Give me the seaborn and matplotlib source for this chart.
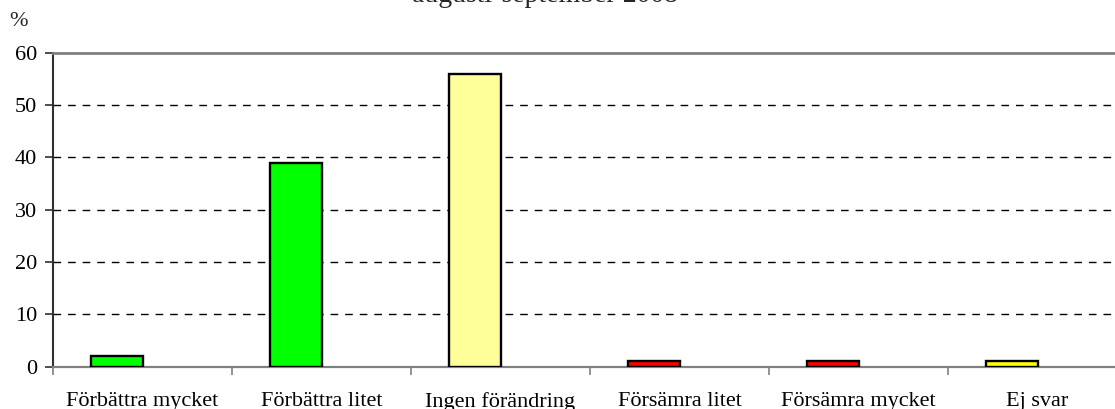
import matplotlib
matplotlib.use("Agg")
import matplotlib.pyplot as plt
import seaborn as sns
import pandas as pd
import numpy as np

categories = ["Förbättra mycket", "Förbättra litet", "Ingen förändring",
              "Försämra litet", "Försämra mycket", "Ej svar"]
values = [2, 39, 56, 1, 1, 1]
bar_colors = ["#00FF00", "#00FF00", "#FFFF99", "#FF0000", "#FF0000", "#FFFF00"]
y_ticks = [0, 10, 20, 30, 40, 50, 60]
title_text = "augusti-september 2008"
unit_label = "%"

sns.set_theme(style="white")
plt.rcParams["font.family"] = ["Liberation Serif", "DejaVu Serif"]
plt.rcParams["lines.scale_dashes"] = False

W, H = 1115, 409
fig = plt.figure(figsize=(W / 100, H / 100), dpi=100)
ax = fig.add_axes([53 / W, 42.5 / H, 1074 / W, 313.8 / H])

# Excel-style clustered bars: one real series plus an empty second series
df = pd.DataFrame({
    "cat": categories + categories,
    "series": ["A"] * len(categories) + ["B"] * len(categories),
    "val": values + [np.nan] * len(categories),
})
sns.barplot(data=df, x="cat", y="val", hue="series", hue_order=["A", "B"],
            order=categories, width=0.571, dodge=True, legend=False,
            palette=["#00FF00", "#00FF00"], saturation=1,
            edgecolor="black", linewidth=1.7, ax=ax, errorbar=None)
for patch, c in zip(ax.containers[0], bar_colors):
    patch.set_facecolor(c)
    patch.set_zorder(3)

ax.set_xlim(-0.5, len(categories) - 0.5)
ax.set_ylim(0, 60)
ax.set_yticks(y_ticks)
ax.set_yticklabels([str(t) for t in y_ticks])
ax.set_xlabel("")
ax.set_ylabel("")

# gridlines
for t in y_ticks[1:-1]:
    ax.axhline(t, color="black", lw=1.0, ls=(0, (5.5, 5.0)), zorder=1)

# spines
for s in ax.spines.values():
    s.set_visible(True)
ax.spines["top"].set_color("#808080")
ax.spines["top"].set_linewidth(2.0)
ax.spines["bottom"].set_color("#808080")
ax.spines["bottom"].set_linewidth(1.6)
ax.spines["left"].set_color("#303030")
ax.spines["left"].set_linewidth(1.5)
ax.spines["right"].set_visible(False)

# ticks
ax.tick_params(axis="y", which="major", left=True, direction="out", length=5.5,
               width=1.2, color="#303030", labelsize=16, pad=6, labelcolor="black")
ax.tick_params(axis="x", which="major", bottom=True, length=0, labelsize=16,
               pad=18.5, labelcolor="black")
ax.set_xticks(np.arange(-0.5, len(categories) + 0.5, 1.0), minor=True)
ax.tick_params(axis="x", which="minor", bottom=True, direction="out", length=6,
               width=1.2, color="#808080")

fig.text(9 / W, 1 - 22 / H, unit_label, fontsize=16, va="center", ha="left")
fig.text(545 / W, 1 - 1.5 / H, title_text, fontsize=20, ha="center", va="baseline")

fig.savefig("out.png", dpi=100)
